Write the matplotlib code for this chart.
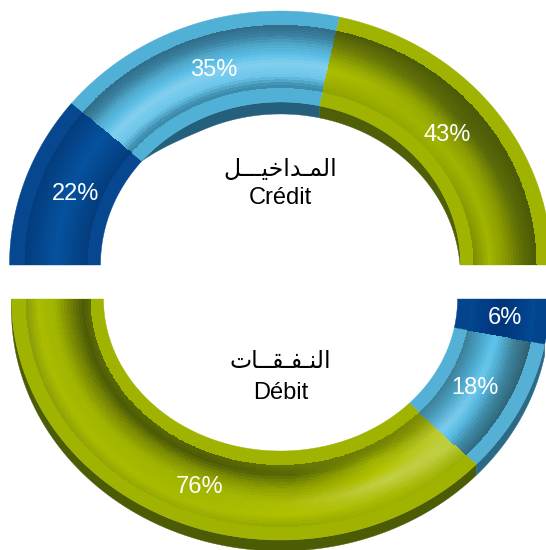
import numpy as np
import matplotlib
matplotlib.use("Agg")
import matplotlib.pyplot as plt
from matplotlib.colors import to_rgb
from matplotlib.patches import Rectangle

# ---- data ----
credit_values = [22, 35, 43]
credit_labels = ["22%", "35%", "43%"]
debit_values = [76, 18, 6]
debit_labels = ["76%", "18%", "6%"]
credit_title = "Crédit"
debit_title = "Débit"
# Arabic in shaped presentation forms, visual order (matplotlib does no shaping)
credit_arabic = "\uFEDE" + "\u0640" * 3 + "\uFEF4\uFEA7\uFE8D\uFEAA" + "\u0640" + "\uFEE4\uFEDF\uFE8D"
debit_arabic = "\uFE95\uFE8E" + "\u0640" * 2 + "\uFED8\u0640\uFED4\u0640\uFEE8\uFEDF\uFE8D"

plt.rcParams["font.family"] = ["Liberation Sans", "DejaVu Sans"]
fig = plt.figure(figsize=(5.46, 5.50), dpi=100)
ax = fig.add_axes([0, 0, 1, 1])
ax.set_xlim(0, 546)
ax.set_ylim(550, 0)
ax.axis("off")


def pt(c, rx, ry, th, dy=0.0):
    return c[0] + rx * np.cos(th), c[1] - ry * np.sin(th) + dy


def band(c, e1, e2, a, b, color, dy2=0.0, ramp=0.0, z=2, clip=None):
    th = np.linspace(a, b, 240)
    x1, y1 = pt(c, e1[0], e1[1], th)
    d = dy2 * np.ones_like(th)
    if ramp > 0:
        w = np.clip(np.abs(th - a) / ramp, 0, 1)
        d = dy2 * np.sin(w * np.pi / 2)
    x2, y2 = pt(c, e2[0], e2[1], th, d)
    p = ax.fill(np.r_[x1, x2[::-1]], np.r_[y1, y2[::-1]], color=color, lw=0.3, zorder=z)[0]
    if clip is not None:
        p.set_clip_path(Rectangle((clip[0], clip[1]), clip[2], clip[3], transform=ax.transData))


def profile(stops, s):
    ps = [q[0] for q in stops]
    cs = np.array([to_rgb(q[1]) for q in stops])
    return np.stack([np.interp(s, ps, cs[:, i]) for i in range(3)], axis=-1)


def shade(c, eo, ei, a, b, keys, nth=260, ns=22, z=3):
    """keys: list of (u, stops); u along the sector, s across the band"""
    th = np.linspace(a, b, nth + 1)
    ss = np.linspace(0, 1, ns + 1)
    T, S = np.meshgrid(th, ss)
    rx = eo[0] + (ei[0] - eo[0]) * S
    ry = eo[1] + (ei[1] - eo[1]) * S
    X = c[0] + rx * np.cos(T)
    Y = c[1] - ry * np.sin(T)
    sm = (ss[:-1] + ss[1:]) / 2
    um = (np.arange(nth) + 0.5) / nth
    us = [k[0] for k in keys]
    profs = np.stack([profile(k[1], sm) for k in keys], axis=0)
    C = np.zeros((ns, nth, 3))
    for j in range(ns):
        for i in range(3):
            C[j, :, i] = np.interp(um, us, profs[:, j, i])
    ax.pcolormesh(X, Y, C, shading="flat", antialiased=False, linewidth=0, zorder=z, rasterized=True)


GREEN = "#9FB300"
BLUE = "#50B0D6"
NAVY = "#06478F"

top_green = [
    (0.0, [(0, "#4C5A08"), (.25, "#6F7E06"), (.5, "#9BAE00"), (.65, "#AEBF00"), (1, "#8FA200")]),
    (0.5, [(0, "#4B5A05"), (.3, "#56660A"), (.55, "#8A9C02"), (.8, "#A0B400"), (1, "#96A900")]),
    (1.0, [(0, "#4A5905"), (.2, "#5C6B05"), (.5, "#8A9A00"), (.75, "#A3B600"), (1, "#7A8A02")]),
]
blue_stops = [(0, "#2F6C89"), (.15, "#3A7F9F"), (.3, "#4EA6C8"), (.45, "#5BBEE6"), (.6, "#82CFEE"), (.8, "#6CC6EA"), (.95, "#3F8EAE"), (1, "#3C8AAA")]
top_blue = [(0.0, blue_stops), (1.0, blue_stops)]
navy_stops = [(0, "#033C7C"), (.5, "#05529F"), (1, "#033C7C")]
top_navy = [(0.0, navy_stops), (1.0, navy_stops)]
bot_green = [
    (0.0, [(0, "#87990A"), (.2, "#AABD00"), (.45, "#A0B300"), (.7, "#6F7E04"), (.88, "#4C5B05"), (1, "#5F6E05")]),
    (0.5, [(0, "#97AA00"), (.15, "#A8BB00"), (.5, "#A0B400"), (.72, "#7F8F02"), (.88, "#4C5B05"), (1, "#566505")]),
    (0.68, [(0, "#94A600"), (.2, "#B0C100"), (.4, "#ACBD05"), (.63, "#8C9C00"), (.85, "#566505"), (1, "#687705")]),
    (0.85, [(0, "#9CB000"), (.15, "#A8BA00"), (.4, "#C3D04A"), (.55, "#B5C500"), (.75, "#A0B300"), (.9, "#7A8A02"), (1, "#6D7C04")]),
    (1.0, [(0, "#99AD00"), (.3, "#C0CE45"), (.6, "#BCCB30"), (.85, "#8A9A05"), (1, "#7C8B04")]),
]
bot_blue = [
    (0.0, [(0, "#2E6A80"), (.2, "#3F8CA9"), (.4, "#5BC0E8"), (.55, "#7FCDEE"), (.8, "#4CA0C0"), (1, "#3D7F99")]),
    (1.0, [(0, "#315F6E"), (.25, "#3D8099"), (.55, "#5CC5EE"), (.75, "#48A8CC"), (1, "#3D7D96")]),
]
bnavy_stops = [(0, "#034C96"), (.15, "#02428A"), (.5, "#01357A"), (.85, "#02408A"), (1, "#034A90")]
bot_navy = [(0.0, bnavy_stops), (1.0, bnavy_stops)]

# ---- credit half ring: starts at the left, runs clockwise over the top ----
c_top = (280.5, 265.0)
fo, go, gi, fi = (271, 254), (256, 240), (193, 177), (180, 163)
edges = np.cumsum([0] + credit_values) / 100.0
angs = np.pi * (1 - edges)
flat_cols = [NAVY, BLUE, GREEN]
keys_top = [top_navy, top_blue, top_green]
depth_top = [None, "#245F7C", "#4F5F08"]
clip_top = (0, 0, 546, 265)
for i in range(len(credit_values)):
    a, b = angs[i], angs[i + 1]
    if depth_top[i]:
        band(c_top, fi, fi, a, b, depth_top[i], dy2=12, ramp=0.45 if i == 1 else 0.0, z=1, clip=clip_top)
    band(c_top, fo, fi, a, b, flat_cols[i], z=2)
    shade(c_top, go, gi, a, b, keys_top[i])

# ---- debit half ring: starts at the left, runs counter-clockwise under ----
c_bot = (280.5, 299.0)
fo2, go2, gi2, fi2 = (269, 241), (255, 228), (190, 166), (177, 152)
edges2 = np.cumsum([0] + debit_values) / 100.0
angs2 = np.pi * (1 + edges2)
flat_cols2 = [GREEN, "#55B0D5", "#03458C"]
keys_bot = [bot_green, bot_blue, bot_navy]
depth_bot = ["#4C5C05", "#2B6A87", None]
for i in range(len(debit_values)):
    a, b = angs2[i], angs2[i + 1]
    if depth_bot[i]:
        band(c_bot, fo2, fo2, a, b, depth_bot[i], dy2=11, z=1)
    band(c_bot, fo2, fi2, a, b, flat_cols2[i], z=2)
    shade(c_bot, go2, gi2, a, b, keys_bot[i])

# ---- text ----
lab = dict(color="white", fontsize=17, ha="center", va="center", zorder=6)
for txt, (x, y) in zip(credit_labels, [(76, 194), (214, 70), (447, 135)]):
    ax.text(x, y, txt, **lab)
for txt, (x, y) in zip(debit_labels, [(200, 487), (475, 388), (505, 318)]):
    ax.text(x, y, txt, **lab)

ttl = dict(color="black", fontsize=17, ha="center", va="center", zorder=6)
ax.text(280.5, 198, credit_title, **ttl)
ax.text(280.5, 393, debit_title, **ttl)
ara = dict(color="black", fontsize=17, ha="center", va="center", zorder=6, family=["DejaVu Sans"])
ax.text(280.5, 169, credit_arabic, **ara)
ax.text(280.5, 361, debit_arabic, **ara)

fig.savefig("out.png", dpi=100, facecolor="white")
